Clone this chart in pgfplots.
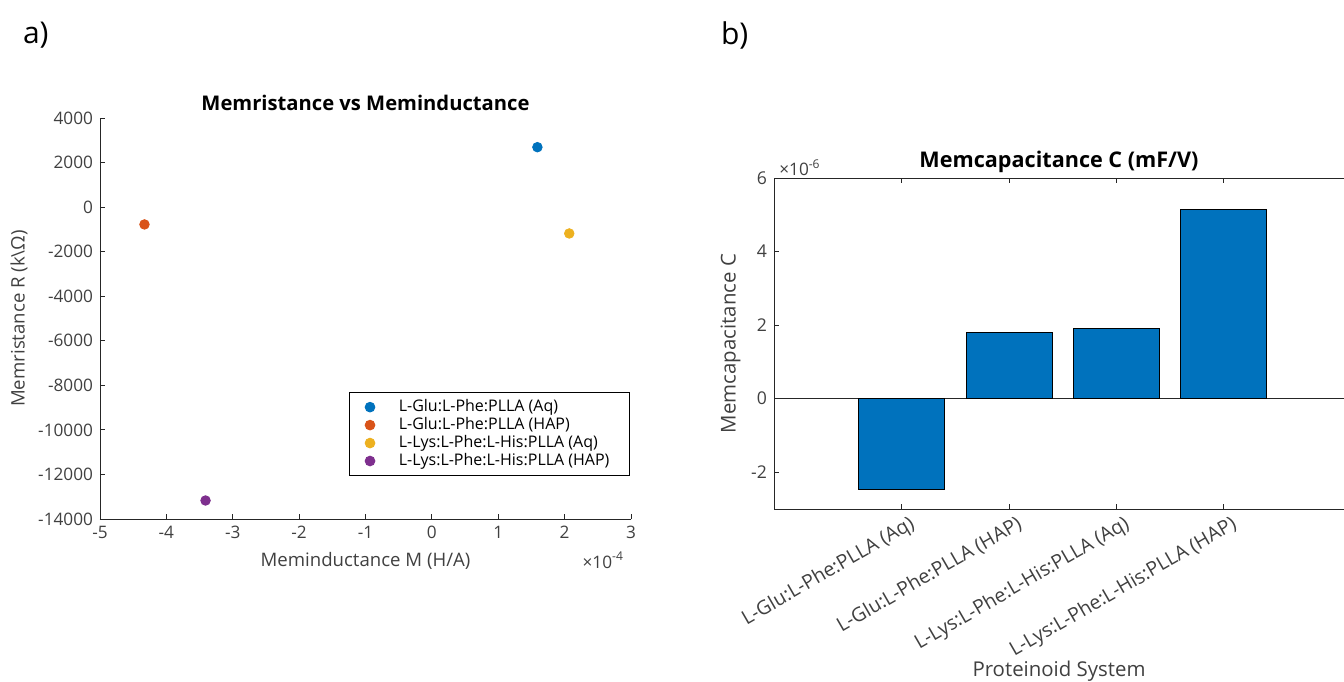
\documentclass[border=0pt]{standalone}
\usepackage{pgfplots}
\pgfplotsset{compat=1.18}
\usepackage{fontspec}
\setmainfont{Open Sans}
\setsansfont{Open Sans}
\definecolor{mblue}{RGB}{0,114,189}
\definecolor{morange}{RGB}{217,83,25}
\definecolor{myellow}{RGB}{237,177,32}
\definecolor{mpurple}{RGB}{126,47,142}
\definecolor{axgray}{RGB}{38,38,38}
\definecolor{txtgray}{RGB}{64,64,64}
\begin{document}
\begin{tikzpicture}[x=1pt,y=1pt]
\useasboundingbox (0,0) rectangle (672,340.5);
\node[anchor=west,font=\fontsize{15}{18}\selectfont] at (8,323) {a)};
\node[anchor=west,font=\fontsize{15}{18}\selectfont] at (357,323) {b)};
% ---------- left: scatter ----------
\begin{axis}[
  scale only axis,
  width=265.5pt, height=200.5pt,
  at={(50pt,81pt)}, anchor=south west,
  axis lines=left,
  axis line style={axgray,line width=0.4pt,-},
  xmin=-5, xmax=3, ymin=-14000, ymax=4000,
  xtick={-5,-4,-3,-2,-1,0,1,2,3},
  ytick={-14000,-12000,-10000,-8000,-6000,-4000,-2000,0,2000,4000},
  tick align=inside,
  major tick length=2.5pt,
  tick style={axgray,line width=0.4pt},
  ticklabel style={font=\fontsize{8.6}{10}\selectfont, text=txtgray},
  /pgf/number format/assume math mode=true,
  /pgf/number format/.cd, set thousands separator={}, fixed, /pgfplots/.cd,
  scaled ticks=false,
  title={\textbf{Memristance vs Meminductance}},
  title style={font=\fontsize{10.1}{12}\selectfont, yshift=-6pt},
  xlabel={Meminductance M (H/A)},
  ylabel={Memristance R (k\textbackslash Ω)},
  label style={font=\fontsize{9.3}{11}\selectfont, text=txtgray},
  xlabel style={yshift=0pt},
  ylabel style={yshift=-1.5pt},
  legend style={at={(0.998,0.107)}, anchor=south east, draw=black, line width=0.5pt,
    font=\fontsize{8}{9}\selectfont, row sep=-2.6pt, inner xsep=8pt, inner ysep=1.5pt},
  legend cell align=left,
  clip=false,
]
\addplot[only marks, mark=*, mark size=2.4pt, color=mblue] coordinates {(1.59,2690)};
\addlegendentry{\hspace{10pt}L-Glu:L-Phe:PLLA (Aq)}
\addplot[only marks, mark=*, mark size=2.4pt, color=morange] coordinates {(-4.33,-778)};
\addlegendentry{\hspace{10pt}L-Glu:L-Phe:PLLA (HAP)}
\addplot[only marks, mark=*, mark size=2.4pt, color=myellow] coordinates {(2.07,-1183)};
\addlegendentry{\hspace{10pt}L-Lys:L-Phe:L-His:PLLA (Aq)}
\addplot[only marks, mark=*, mark size=2.4pt, color=mpurple] coordinates {(-3.41,-13170)};
\addlegendentry{\hspace{10pt}L-Lys:L-Phe:L-His:PLLA (HAP)}
\node[anchor=north east, font=\fontsize{8.6}{10}\selectfont, text=txtgray] at (rel axis cs:1.0,-0.065) {×10\textsuperscript{-4}};
\end{axis}
% ---------- right: bars ----------
\begin{axis}[
  scale only axis,
  width=285pt, height=165.5pt,
  at={(387pt,86pt)}, anchor=south west,
  axis x line=box, axis y line=left,
  axis line style={axgray,line width=0.4pt,-},
  xmin=-1.19, xmax=4.12, ymin=-3, ymax=6,
  xtick={0,1,2,3},
  xticklabels={L-Glu:L-Phe:PLLA (Aq),L-Glu:L-Phe:PLLA (HAP),L-Lys:L-Phe:L-His:PLLA (Aq),L-Lys:L-Phe:L-His:PLLA (HAP)},
  x tick label style={rotate=30, anchor=north east, font=\fontsize{9.8}{12}\selectfont, text=txtgray, inner sep=1pt, yshift=-3pt, xshift=2.5pt},
  ytick={-2,0,2,4,6},
  y tick label style={font=\fontsize{8.8}{10}\selectfont, text=txtgray},
  /pgf/number format/assume math mode=true,
  tick align=inside,
  major tick length=2.5pt,
  tick style={axgray,line width=0.4pt},
  xtick pos=both,
  extra y ticks={0}, extra y tick labels={},
  extra y tick style={grid=major, major grid style={axgray,line width=0.5pt}, major tick length=0pt},
  title={\textbf{Memcapacitance C (mF/V)}},
  title style={font=\fontsize{10.8}{12}\selectfont, yshift=-7pt},
  xlabel={Proteinoid System},
  ylabel={Memcapacitance C},
  label style={font=\fontsize{10.2}{12}\selectfont, text=txtgray},
  xlabel style={yshift=5pt},
  ylabel style={yshift=-1.5pt},
  clip=false,
]
\addplot[ybar, bar width=0.8, bar shift=0pt, fill=mblue, draw=black, line width=0.4pt]
  coordinates {(0,-2.46) (1,1.79) (2,1.90) (3,5.15)};
\node[anchor=south west, font=\fontsize{8.6}{10}\selectfont, text=txtgray] at (rel axis cs:-0.003,0.985) {×10\textsuperscript{-6}};
\end{axis}
\end{tikzpicture}
\end{document}
